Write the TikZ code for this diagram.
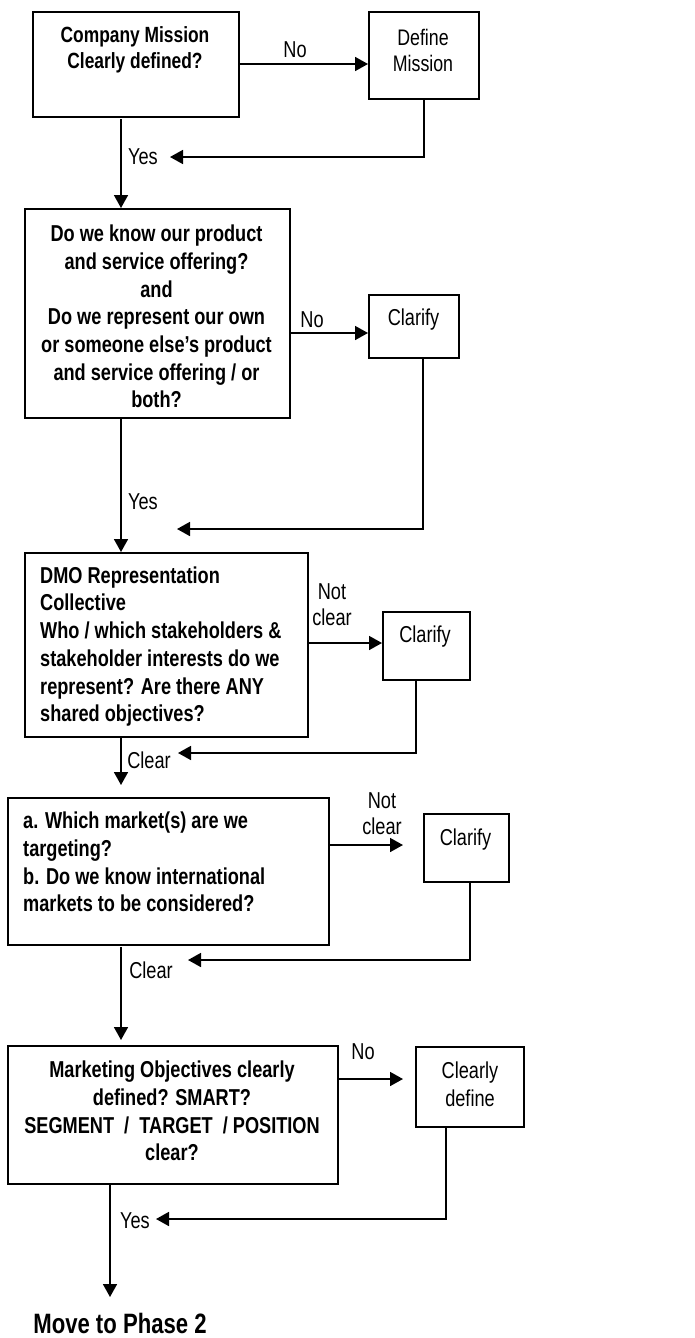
\documentclass[tikz,border=0pt]{standalone}
\usepackage{fontspec}
\setmainfont[FakeStretch=0.79]{Liberation Sans}
\usetikzlibrary{arrows.meta}
\begin{document}
\begin{tikzpicture}[x=1pt,y=-1pt,
  box/.style={draw, line width=1.7pt, inner sep=0pt, anchor=north west},
  btxt/.style={font=\bfseries\fontsize{23}{27.7}\selectfont, align=center, inner sep=0pt},
  rtxt/.style={font=\fontsize{23}{27.7}\selectfont, align=center, inner sep=0pt},
  conn/.style={line width=1.7pt, -{Triangle[length=13pt,width=14pt]}},
  ln/.style={line width=1.7pt}]
\useasboundingbox[fill=white] (0,0) rectangle (695,1338);

% boxes
\node[box, minimum width=206pt, minimum height=105pt] (b1) at (32,11) {};
\node[box, minimum width=110pt, minimum height=87pt] (s1) at (368,11) {};
\node[box, minimum width=265pt, minimum height=209pt] (b2) at (24,208) {};
\node[box, minimum width=90pt, minimum height=63pt] (s2) at (368,294) {};
\node[box, minimum width=283pt, minimum height=184pt] (b3) at (24,552) {};
\node[box, minimum width=87pt, minimum height=68pt] (s3) at (382,611) {};
\node[box, minimum width=321pt, minimum height=147pt] (b4) at (7,797) {};
\node[box, minimum width=85pt, minimum height=68pt] (s4) at (423,813) {};
\node[box, minimum width=330pt, minimum height=138pt] (b5) at (7,1045) {};
\node[box, minimum width=108pt, minimum height=80pt] (s5) at (415,1046) {};

% box texts
\node[btxt, font=\bfseries\fontsize{22}{26}\selectfont] (t1) at (135,50) {Company Mission\\Clearly defined?};
\node[rtxt, font=\fontsize{22.5}{26}\selectfont] (ts1) at (423,50) {Define\\Mission};
\node[btxt] (t2) at (156.5,316.5) {Do we know our product\\and service offering?\\and\\Do we represent our own\\or someone else’s product\\and service offering / or\\both?};
\node[rtxt] (ts2) at (413.5,320) {Clarify};
\node[btxt, align=left, anchor=west] (t3) at (40,646.5) {DMO Representation\\Collective\\Who / which stakeholders \&\\stakeholder interests do we\\represent? Are there ANY\\shared objectives?};
\node[rtxt] (ts3) at (425,637) {Clarify};
\node[btxt, align=left, anchor=west] (t4) at (23,862) {a. Which market(s) are we\\targeting?\\b. Do we know international\\markets to be considered?};
\node[rtxt] (ts4) at (465.5,840) {Clarify};
\node[btxt] (t5) at (172,1111) {Marketing Objectives clearly\\defined? SMART?\\SEGMENT~~/~~TARGET~~/ POSITION\\clear?};
\node[rtxt] (ts5) at (470,1084) {Clearly\\define};
\node[btxt, font=\bfseries\fontsize{28}{32}\selectfont] (end) at (120,1323) {Move to Phase 2};

% free-end coordinates
\coordinate (r1) at (170,157);
\coordinate (r2) at (177,529);
\coordinate (r3) at (178,753);
\coordinate (r4) at (188,960);
\coordinate (r5) at (156,1219);
\coordinate (d1) at (121,119);
\coordinate (d3) at (121,785);
\coordinate (d4a) at (121,947);
\coordinate (d4) at (121,1040);
\coordinate (d5) at (110,1297);
\coordinate (a4) at (403,845);
\coordinate (a5) at (403,1079);

% connectors
\draw[conn] (b1.east |- 0,64) -- (s1.west |- 0,64);
\draw[conn] (s1.south) |- (r1);
\draw[conn] (d1) -- (b2.north -| d1);

\draw[conn] (b2.east |- 0,333) -- (s2.west |- 0,333);
\draw[conn] (s2.south -| 423,0) |- (r2);
\draw[conn] (b2.south -| d1) -- (b3.north -| d1);

\draw[conn] (b3.east |- 0,643) -- (s3.west |- 0,643);
\draw[conn] (s3.south -| 416,0) |- (r3);
\draw[conn] (b3.south -| d1) -- (d3);

\draw[conn] (b4.east |- a4) -- (a4);
\draw[conn] (s4.south -| 470,0) |- (r4);
\draw[conn] (d4a) -- (d4);

\draw[conn] (b5.east |- a5) -- (a5);
\draw[conn] (s5.south -| 446,0) |- (r5);
\draw[conn] (b5.south -| d5) -- (d5);

% labels
\node[rtxt] (l1) at (295,50) {No};
\node[rtxt] (l2) at (143,157) {Yes};
\node[rtxt] (l3) at (312,320) {No};
\node[rtxt] (l4) at (143,502) {Yes};
\node[rtxt, font=\fontsize{23}{26}\selectfont] (l5) at (332,605) {Not\\clear};
\node[rtxt] (l6) at (149,760) {Clear};
\node[rtxt, font=\fontsize{23}{26}\selectfont] (l7) at (382,813.5) {Not\\clear};
\node[rtxt] (l8) at (151,970) {Clear};
\node[rtxt] (l9) at (363,1052) {No};
\node[rtxt] (l10) at (135,1221) {Yes};
\end{tikzpicture}
\end{document}
